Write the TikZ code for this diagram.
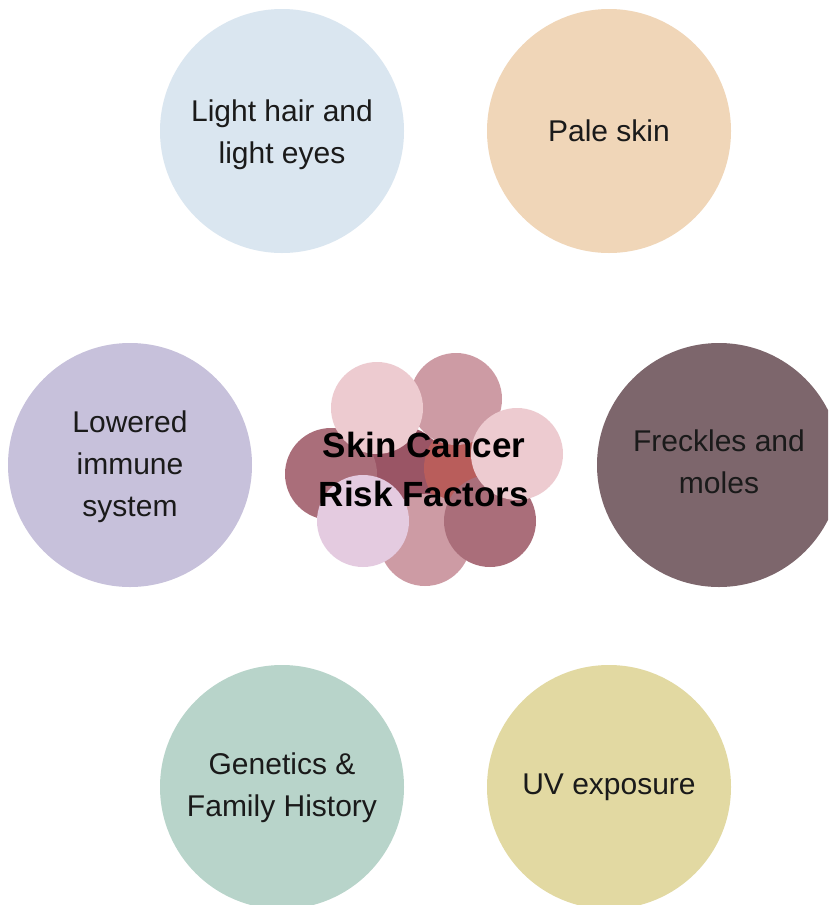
\documentclass[tikz,border=0pt]{standalone}
\usepackage{fontspec}
\setmainfont{Liberation Sans}
\definecolor{cHair}{HTML}{DAE6F0}
\definecolor{cPale}{HTML}{F0D6B8}
\definecolor{cImm}{HTML}{C7C1DB}
\definecolor{cFreck}{HTML}{7D666C}
\definecolor{cGen}{HTML}{B8D4CA}
\definecolor{cUV}{HTML}{E2D9A2}
\definecolor{pLight}{HTML}{EDCBD0}
\definecolor{pMid}{HTML}{CD9BA4}
\definecolor{pDark}{HTML}{AA6E7A}
\definecolor{pLav}{HTML}{E4CBE0}
\definecolor{pCore}{HTML}{9A5565}
\definecolor{pRed}{HTML}{B95D5B}
\definecolor{txt}{HTML}{1A1A1A}
\tikzset{
  factor/.style={circle, minimum size=244pt, inner sep=0pt},
  factortext/.style={align=center, text=txt, inner sep=0pt, font=\fontsize{30}{42}\selectfont},
  petal/.style={circle, minimum size=92pt, inner sep=0pt},
}
\begin{document}
\begin{tikzpicture}[x=1pt,y=-1pt]
\useasboundingbox (0,0) rectangle (828,905);
\clip (0,0) rectangle (828,905);
\fill[white] (0,0) rectangle (828,905);
% outer factors
\node[factor, fill=cHair]  (hair)  at (282,131) {};
\node[factor, fill=cPale]  (pale)  at (609,131) {};
\node[factor, fill=cImm]   (imm)   at (130,465) {};
\node[factor, fill=cFreck] (freck) at (719,465) {};
\node[factor, fill=cGen]   (gen)   at (282,787) {};
\node[factor, fill=cUV]    (uv)    at (609,787) {};
\node[factortext] (hairT)  at (282,134.5) {Light hair and\\light eyes};
\node[factortext] (paleT)  at (609,131) {Pale skin};
\node[factortext] (immT)   at (130,466.5) {Lowered\\immune\\system};
\node[factortext] (freckT) at (719,461.5) {Freckles and\\moles};
\node[factortext] (genT)   at (282,787.5) {Genetics \&\\Family History};
\node[factortext] (uvT)    at (609,787) {UV exposure};
% central cluster
\node[petal, fill=pCore] (core) at (400,472) {};
\node[petal, fill=pRed]  (red)  at (470,468) {};
\node[petal, fill=pMid]  (ptr)  at (456,399) {};
\node[petal, fill=pMid]  (pb)   at (425,540) {};
\node[petal, fill=pDark] (pl)   at (331,474) {};
\node[petal, fill=pDark] (pbr)  at (490,521) {};
\node[petal, fill=pLight] (ptl) at (377,408) {};
\node[petal, fill=pLight] (pr)  at (517,454) {};
\node[petal, fill=pLav]  (pbl)  at (363,521) {};
\node[align=center, text=black, inner sep=0pt, font=\fontsize{35}{49}\selectfont\bfseries] (title) at (424,469.5) {Skin Cancer\\Risk Factors};
\end{tikzpicture}
\end{document}
